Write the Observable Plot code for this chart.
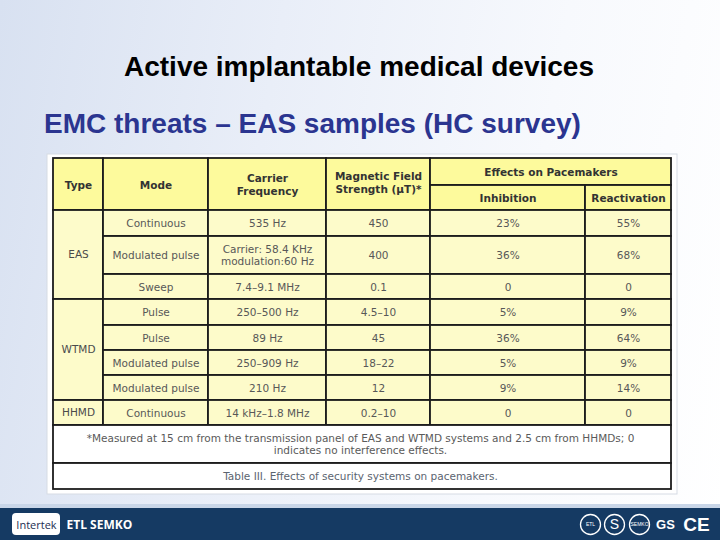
<!DOCTYPE html>
<html>
<head>
<meta charset="utf-8">
<script src="https://cdn.jsdelivr.net/npm/d3@7"></script>
<script src="https://cdn.jsdelivr.net/npm/@observablehq/plot@0.6"></script>
<style>
  html, body { margin: 0; padding: 0; }
  #slide {
    position: relative; width: 720px; height: 540px; overflow: hidden;
    background: linear-gradient(100deg, #d8e1f1 0%, #e9eef8 35%, #f7f9fd 70%, #ffffff 100%);
    font-family: "Liberation Sans", Arial, sans-serif;
  }
  #title {
    position: absolute; left: 0; width: 718px; top: 53px; text-align: center;
    font-size: 28px; line-height: 28px; font-weight: bold; color: #000; z-index: 2;
  }
  #subtitle {
    position: absolute; left: 44px; top: 110px;
    font-size: 28px; line-height: 28px; font-weight: bold; color: #2b3590; z-index: 2;
  }
  #chart { position: absolute; left: 0; top: 0; z-index: 1; }
</style>
</head>
<body>
<div id="slide">
  <div id="title">Active implantable medical devices</div>
  <div id="subtitle">EMC threats – EAS samples (HC survey)</div>
  <div id="chart"></div>
</div>
<script>
const headerTop = ["Type", "Mode", "Carrier\nFrequency", "Magnetic Field\nStrength (µT)*", "Effects on Pacemakers"];
const headerSub = ["Inhibition", "Reactivation"];
const types = ["EAS", "EAS", "EAS", "WTMD", "WTMD", "WTMD", "WTMD", "HHMD"];
const modes = ["Continuous", "Modulated pulse", "Sweep", "Pulse", "Pulse", "Modulated pulse", "Modulated pulse", "Continuous"];
const frequencies = ["535 Hz", "Carrier: 58.4 KHz\nmodulation:60 Hz", "7.4–9.1 MHz", "250–500 Hz", "89 Hz", "250–909 Hz", "210 Hz", "14 kHz–1.8 MHz"];
const fieldStrengths = ["450", "400", "0.1", "4.5–10", "45", "18–22", "12", "0.2–10"];
const inhibition = ["23%", "36%", "0", "5%", "36%", "5%", "9%", "0"];
const reactivation = ["55%", "68%", "0", "9%", "64%", "9%", "14%", "0"];
const footnote = "*Measured at 15 cm from the transmission panel of EAS and WTMD systems and 2.5 cm from HHMDs; 0\nindicates no interference effects.";
const caption = "Table III. Effects of security systems on pacemakers.";
const footerBrand = ["Intertek", "ETL SEMKO"];
const footerMarks = ["ETL", "S", "SEMKO", "GS", "CE"];

// ---- Layout (page pixels) ----
const colEdges = [53, 103, 208, 326, 430, 585, 671];
const headTop = 158, headMid = 185, headBottom = 210;
const rowEdges = [210, 236, 274, 299, 325, 350, 375, 400, 425];
const footEdges = [425, 463, 489];

const HEAD_FILL = "#fdfa9c", BODY_FILL = "#fdfbca", LINE = "#1c1c1c";
const FONT = "'DejaVu Sans', Verdana, sans-serif";

// header cells
const headCells = [
  {x1: colEdges[0], x2: colEdges[1], y1: headTop, y2: headBottom, t: headerTop[0]},
  {x1: colEdges[1], x2: colEdges[2], y1: headTop, y2: headBottom, t: headerTop[1]},
  {x1: colEdges[2], x2: colEdges[3], y1: headTop, y2: headBottom, t: headerTop[2]},
  {x1: colEdges[3], x2: colEdges[4], y1: headTop, y2: headBottom - 4, t: headerTop[3]},
  {x1: colEdges[4], x2: colEdges[6], y1: headTop, y2: headMid, t: headerTop[4]},
  {x1: colEdges[4], x2: colEdges[5], y1: headMid, y2: headBottom, t: headerSub[0]},
  {x1: colEdges[5], x2: colEdges[6], y1: headMid, y2: headBottom, t: headerSub[1]}
];
// the Magnetic Field cell spans the full header height
const headRects = headCells.map(d => ({...d, y2: d.y1 === headTop && d.x1 === colEdges[3] ? headBottom : d.y2}));

// merged type cells
const typeCells = [];
types.forEach((t, i) => {
  const last = typeCells[typeCells.length - 1];
  if (last && last.t === t) last.y2 = rowEdges[i + 1];
  else typeCells.push({t, x1: colEdges[0], x2: colEdges[1], y1: rowEdges[i], y2: rowEdges[i + 1]});
});

// body cells
const columns = [modes, frequencies, fieldStrengths, inhibition, reactivation];
const bodyCells = [];
columns.forEach((col, c) => col.forEach((v, r) => bodyCells.push({
  t: v, x1: colEdges[c + 1], x2: colEdges[c + 2], y1: rowEdges[r], y2: rowEdges[r + 1]
})));

const footCells = [
  {t: footnote, x1: colEdges[0], x2: colEdges[6], y1: footEdges[0], y2: footEdges[1], fill: "#5a5a5a"},
  {t: caption, x1: colEdges[0], x2: colEdges[6], y1: footEdges[1], y2: footEdges[2], fill: "#5b6470"}
];

const cx = d => (d.x1 + d.x2) / 2, cy = d => (d.y1 + d.y2) / 2;

// footer emblems
const markX = [590, 614, 639, 665, 696];
const emblems = footerMarks.map((t, i) => ({t, x: markX[i], y: 524}));

const chart = Plot.plot({
  width: 720, height: 540, margin: 0,
  x: {domain: [0, 720], range: [0, 720], axis: null},
  y: {domain: [0, 540], range: [0, 540], axis: null},
  style: {background: "transparent", overflow: "visible"},
  marks: [
    // white backing panel
    Plot.rect([{x1: 47, x2: 677, y1: 154, y2: 494}], {x1: "x1", x2: "x2", y1: "y1", y2: "y2", fill: "#ffffff", stroke: "#d6dbe4", strokeWidth: 1}),
    // cells
    Plot.rect(headRects, {x1: "x1", x2: "x2", y1: "y1", y2: "y2", fill: HEAD_FILL, stroke: LINE, strokeWidth: 1.8}),
    Plot.rect(typeCells, {x1: "x1", x2: "x2", y1: "y1", y2: "y2", fill: BODY_FILL, stroke: LINE, strokeWidth: 1.8}),
    Plot.rect(bodyCells, {x1: "x1", x2: "x2", y1: "y1", y2: "y2", fill: BODY_FILL, stroke: LINE, strokeWidth: 1.8}),
    Plot.rect(footCells, {x1: "x1", x2: "x2", y1: "y1", y2: "y2", fill: "#ffffff", stroke: LINE, strokeWidth: 1.8}),
    // texts
    Plot.text(headCells, {x: cx, y: cy, text: "t", fill: "#333333", fontWeight: "bold", fontSize: 10.5, fontFamily: FONT, lineHeight: 1.2}),
    Plot.text(typeCells, {x: cx, y: cy, text: "t", fill: "#4a4a4a", fontSize: 10.5, fontFamily: FONT}),
    Plot.text(bodyCells, {x: cx, y: cy, text: "t", fill: "#585858", fontSize: 10.5, fontFamily: FONT, lineHeight: 1.1}),
    Plot.text(footCells, {x: d => 360, y: cy, text: "t", fill: "fill", fontSize: 10.5, fontFamily: FONT, lineHeight: 1.15}),
    // footer bar
    Plot.rect([{x1: 0, x2: 720, y1: 504, y2: 508}], {x1: "x1", x2: "x2", y1: "y1", y2: "y2", fill: "#c9d6e8"}),
    Plot.rect([{x1: 0, x2: 720, y1: 508, y2: 540}], {x1: "x1", x2: "x2", y1: "y1", y2: "y2", fill: "#153a63"}),
    Plot.rect([{x1: 12, x2: 60, y1: 513, y2: 535}], {x1: "x1", x2: "x2", y1: "y1", y2: "y2", fill: "#ffffff", rx: 4}),
    Plot.text([footerBrand[0]], {x: 36, y: 524.5, text: d => d, fill: "#1b2f52", fontSize: 11, fontFamily: "'Open Sans', sans-serif"}),
    Plot.text([footerBrand[1]], {x: 66, y: 524.5, text: d => d, textAnchor: "start", fill: "#ffffff", fontWeight: "bold", fontSize: 12, fontFamily: "'Open Sans', sans-serif"}),
    Plot.dot(emblems.slice(0, 3), {x: "x", y: "y", r: 10, stroke: "#ffffff", strokeWidth: 1.3, fill: "none"}),
    Plot.text(emblems.slice(0, 3), {x: "x", y: "y", text: "t", fill: "#ffffff", fontSize: d => d.t.length > 2 ? 5 : (d.t.length > 1 ? 8 : 14), fontFamily: "'Liberation Sans', sans-serif"}),
    Plot.text(emblems.slice(3), {x: "x", y: "y", text: "t", fill: "#ffffff", fontWeight: "bold", fontSize: d => d.t === "CE" ? 19 : 13, fontFamily: "'Liberation Sans', sans-serif"})
  ]
});
document.getElementById("chart").appendChild(chart);
</script>
</body>
</html>
